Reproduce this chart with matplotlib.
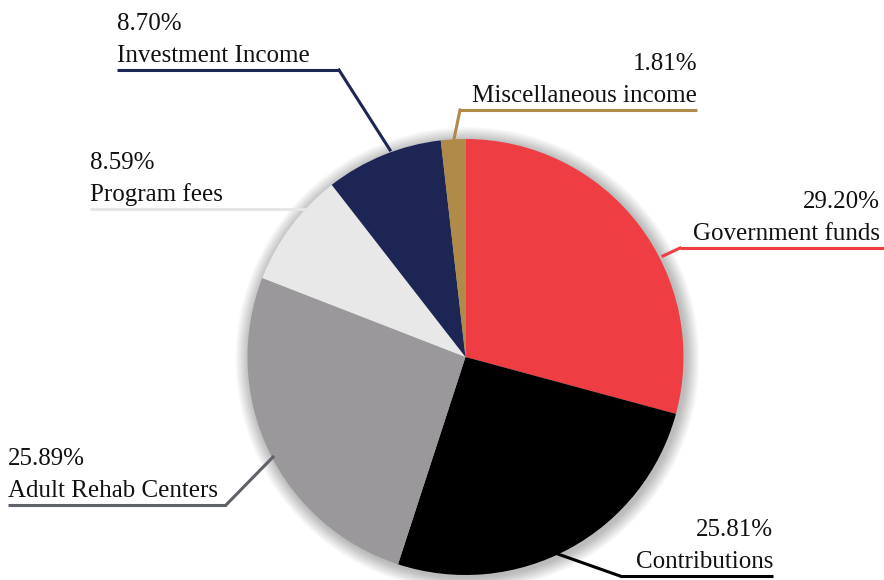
import matplotlib
matplotlib.use("Agg")
import matplotlib.pyplot as plt
from matplotlib.patches import Circle

labels = ["Government funds", "Contributions", "Adult Rehab Centers",
          "Program fees", "Investment Income", "Miscellaneous income"]
values = [29.20, 25.81, 25.89, 8.59, 8.70, 1.81]
colors = ["#EE3E43", "#000000", "#9A989B", "#E8E8E8", "#1C2554", "#B08A48"]
line_colors = ["#EE3E43", "#000000", "#5E6168", "#E6E6E6", "#1C2554", "#B08A48"]

W, H = 884, 580
fig = plt.figure(figsize=(W / 100, H / 100), dpi=100)
ax = fig.add_axes([0, 0, 1, 1])


def Y(y):
    return H - y


cx, cy, R = 465.5, Y(357), 218

# soft shadow
for i in range(14):
    ax.add_patch(Circle((cx + 2, cy - 2), R + 14 - i, color="black",
                        alpha=0.018, lw=0, zorder=1))

ax.pie(values, colors=colors, startangle=90, counterclock=False,
       center=(cx, cy), radius=R, frame=True,
       wedgeprops=dict(linewidth=0, zorder=2))
ax.set_xlim(0, W)
ax.set_ylim(0, H)
ax.set_aspect("equal")
ax.axis("off")

font = "Liberation Serif"
fs = 18

# label layout: (text x, line y, line x0, line x1, leader end on pie, align)
layout = {
    "Government funds": (880, 248, 680, 884, (663, 256), "right"),
    "Contributions": (773, 576, 620, 773, (555, 553), "right"),
    "Adult Rehab Centers": (8, 505, 8, 226, (273, 457), "left"),
    "Program fees": (90, 209, 90, 305, (305, 209), "left"),
    "Investment Income": (117, 70, 117, 339, (390, 150), "left"),
    "Miscellaneous income": (697, 110, 460, 697, (454, 139), "right"),
}

for lab, val, lc in zip(labels, values, line_colors):
    tx, ly, x0, x1, (ex, ey), ha = layout[lab]
    ax.plot([x0, x1], [Y(ly), Y(ly)], color=lc, lw=2.2, solid_capstyle="butt", zorder=3)
    corner = x1 if ha == "left" else x0
    ax.plot([corner, ex], [Y(ly), Y(ey)], color=lc, lw=2.2, zorder=3)
    ax.text(tx, Y(ly - 8), lab, ha=ha, va="baseline", fontsize=fs, family=font, color="#111111")
    ax.text(tx, Y(ly - 40), f"{val:.2f}%", ha=ha, va="baseline", fontsize=fs, family=font, color="#111111")

fig.savefig("out.png", dpi=100)
